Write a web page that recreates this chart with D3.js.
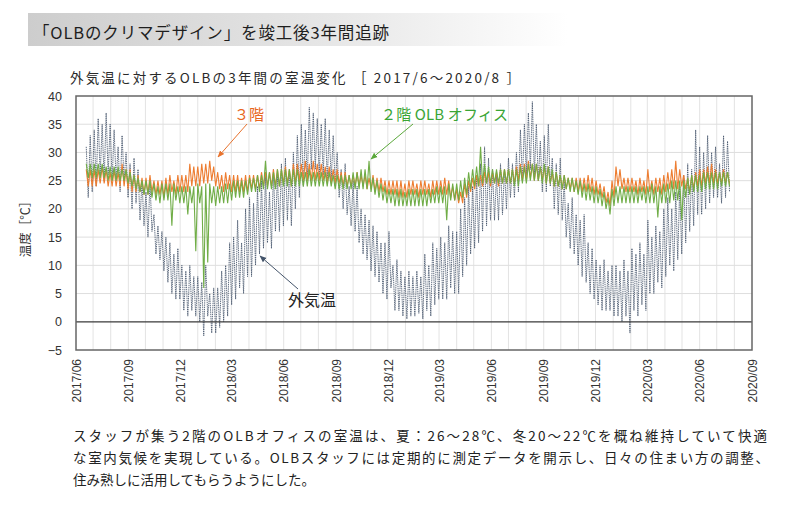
<!DOCTYPE html>
<html><head><meta charset="utf-8">
<script src="https://cdn.jsdelivr.net/npm/d3@7"></script>
<style>
html,body{margin:0;padding:0;background:#fff;}
svg{display:block;}
</style></head>
<body>
<svg id="chart" width="800" height="507"></svg>
<script>
// ---- data (weekly samples starting 2017-06-19; hi / lo of each week) ----
const seriesStart = "2017-06-19";
const weekCount = 162;

const outdoorHi = [
31,33,34,36,35,37,35,34,31,33,
30,28,29,27,25,23,25,19,17,16,
15,14,12,13,10,9,10,8,8,7,
10,5,6,6,9,10,14,15,18,14,
20,22,21,24,25,26,23,27,26,28,
29,27,30,33,35,34,38,37,36,35,
36,34,33,30,27,28,24,25,24,20,
19,18,17,16,14,14,16,10,11,9,
8,9,8,9,8,12,10,14,13,15,
14,17,16,16,20,22,24,24,26,28,
31,29,27,26,28,27,29,28,30,34,
35,37,39,35,32,33,35,29,28,29,
25,21,22,19,18,19,14,13,11,10,
11,9,10,10,9,11,9,13,12,14,
12,18,15,17,16,20,22,20,23,24,
26,28,27,34,31,30,33,30,31,28,
33,32];
const outdoorLo = [
22,23,24,26,25,26,25,25,23,25,
22,20,21,18,17,15,16,12,11,9,
7,5,4,4,2,1,2,1,0,-2.5,
1,-2,-2,-1,0,1,3,4,6,5,
8,8,10,12,13,14,13,16,16,17,
18,17,20,22,24,25,27,27,26,26,
25,25,24,22,20,19,17,16,14,12,
11,9,8,7,5,4,6,2,2,1,
0.5,1,1,1.5,0.5,2,1,3,4,4,
4,6,5,5,8,10,12,13,14,16,
17,18,18,18,19,20,22,22,23,25,
26,27,26,25,23,23,24,20,19,18,
15,13,12,10,8,7,5,4,3,2,
2,2,1,1,0,1,-2,2,1,3,
2,5,5,7,6,8,10,9,11,12,
14,16,17,19,19,20,21,22,22,21,
22,23];

const floor3Hi = [
27,27,27,27,27.5,27,26.5,27,26.5,28,
27,27,26,26,25.5,25.5,26,25,25,25,
25.5,26,25,26,26,26,28,27.5,27.5,28,
28,28.5,27.5,26.5,26,26.5,26,26,26,25.5,
26,26,26,26,26.5,26.5,26.5,27,27,27,
27.5,27,28,28,28,28.5,28,28.5,28,28,
27.5,27.5,27,27,26.5,26.5,26,26,26.5,26,
26,25.5,26,25.5,25.5,25,25,25,25,25,
24.5,25,25,24.5,25,25,24.5,25,25,25,
25.5,25,24,23.5,23,24.5,25,25.5,26,26,
26.5,26.5,26.5,26.5,27,27,27,27,27.5,28,
28,28.5,28,28,27.5,27.5,27.5,26.5,26.5,26,
26,25.5,25.5,25.5,25.5,25.5,26,25.5,25,24.5,
24,23,25,27.5,27,25.5,25.5,25.5,25,25.5,
25,27,25,25.5,25.5,26,26.5,27,28.5,27,
26,25.5,26,26.5,27,27,27.5,28,27,26.5,
27,26.5];
const floor3Lo = [
24,24,24,24.5,24.5,24,24,24,24,24,
23.5,23,23,23,22.5,22.5,23,22.5,22.5,22,
22.5,23,22.5,23,23,23,24,24,24,24.5,
24.5,25,24,23.5,23,23.5,23,23,23,23,
23,23.5,23.5,23.5,24,24,24,24,24,24.5,
24.5,24,24.5,25,25,25,25,25,25,25,
24.5,24.5,24.5,24.5,24,24,24,24,24,24,
23.5,23.5,23,23,23,22.5,22.5,22.5,22,22,
22,22.5,22.5,22,22.5,22.5,22,22.5,22.5,22.5,
22.5,22,21.5,21,21,22,23,23.5,24,24,
24.5,24,24.5,24,24.5,24.5,24.5,24.5,25,25,
25,25.5,25,25,25,24.5,24.5,24,24,23.5,
23.5,23.5,23,23,23,23,23,22.5,22.5,22,
21,20.5,22,24,23.5,23,23,23,22.5,23,
22.5,23,22.5,23,22.5,23,23.5,23.5,23.5,24,
23.5,23,23.5,24,24,24.5,24.5,24.5,24.5,24.5,
24.5,24.5];

const office2Hi = [
28,28,28,28,28,27.5,27.5,27.5,27.5,27,
27,26.5,26,25.5,25,25,25,24.5,24,24.5,
24.5,24.5,24.5,24,24,24,24,24,24.5,24,
24.5,24.5,24,24,24,24.5,24.5,25,25,25,
25,25.5,25.5,26,26,28.5,26.5,26.5,27,27,
27,27,27,27,26.5,26.5,27,26.5,26.5,26.5,
26.5,26.5,26,26,26,26,26,26.5,26.5,27,
27,28.5,25.5,25,24.5,24,23.5,23.5,23.5,23.5,
23,23.5,23.5,23.5,23.5,23.5,23.5,23.5,24,24,
24,24.5,24.5,24.5,25,25.5,26.5,27,27.5,31,
28,27.5,27,27,27,27,27,27,27,27.5,
27.5,28,28,28,27.5,28,27.5,27,26.5,26,
26,25.5,25.5,25,25,24.5,24.5,24,24,23.5,
23,22,23.5,24,24,24,24,24,24,24,
24,24,24.5,24,24,24.5,24.5,25,25,25,
25,25.5,26,26,26,26.5,26.5,26.5,26.5,26.5,
26.5,26.5];
const office2Lo = [
25.5,25.5,25.5,25.5,25.5,25,25,25,25,25,
24.5,24,23.5,23,22.5,22.5,22,21.5,21,21.5,
21.5,17,21.5,21,21,19,21,12.5,21,6,
10.5,21,20.5,21,21,21,21.5,22,22,22,
22.5,23,23,23,23.5,23.5,23.5,23.5,24,24,
24,24,24,24,24,24,24,24,24,24,
24,24,23.5,23.5,23.5,23.5,23.5,23.5,23.5,23.5,
23.5,23,22.5,22,21.5,21,21,20.5,20.5,20.5,
20.5,20.5,20.5,20.5,20.5,20.5,21,21,21,21,
18,21.5,21.5,21.5,22,22.5,23.5,24,24,24.5,
24.5,24.5,24.5,24.5,24.5,24.5,24.5,24,24,24.5,
24.5,25,25,25,24.5,24.5,24.5,24,24,23.5,
23.5,23,23,22.5,22,21.5,21.5,21,21,20.5,
20,19,20.5,21,21,21,21,21,21,21.5,
21,21,21,18.5,21,21,21,21.5,21.5,18,
22,22.5,23,23,23,23.5,23.5,23.5,23.5,24,
24,24];

const yTicks = [-5,0,5,10,15,20,25,30,35,40];
const xTickLabels = ["2017/06","2017/09","2017/12","2018/03","2018/06","2018/09","2018/12",
  "2019/03","2019/06","2019/09","2019/12","2020/03","2020/06","2020/09"];

const headerText = "「OLBのクリマデザイン」を竣工後3年間追跡";
const titleText = "外気温に対するOLBの3年間の室温変化 ［ 2017/6～2020/8 ］";
const yLabelText = "温度［℃］";
const label3F = "３階";
const label2F = "２階 OLB オフィス";
const labelOut = "外気温";
const captionLines = [
  "スタッフが集う2階のOLBオフィスの室温は、夏：26～28℃、冬20～22℃を概ね維持していて快適",
  "な室内気候を実現している。OLBスタッフには定期的に測定データを開示し、日々の住まい方の調整、",
  "住み熟しに活用してもらうようにした。"
];

// ---- drawing ----
const svg = d3.select("#chart");
const JP = "'Noto Sans CJK JP','Noto Sans',sans-serif";
const NUM = "'Liberation Sans',Arial,sans-serif";

const parse = d3.timeParse("%Y-%m-%d");
const parseM = d3.timeParse("%Y/%m");
const t0 = parse(seriesStart);
const weeks = d3.range(weekCount).map(i => d3.timeDay.offset(t0, 7 * i));

const x = d3.scaleTime().domain([parseM(xTickLabels[0]), parseM(xTickLabels[xTickLabels.length-1])]).range([76, 752]);
const y = d3.scaleLinear().domain([-5, 40]).range([350, 96]);

// header banner
const defs = svg.append("defs");
const g1 = defs.append("linearGradient").attr("id","hdr").attr("x1","0").attr("x2","1").attr("y1","0").attr("y2","0");
g1.append("stop").attr("offset","0").attr("stop-color","#cdcdcd");
g1.append("stop").attr("offset","0.55").attr("stop-color","#e6e6e6");
g1.append("stop").attr("offset","1").attr("stop-color","#ffffff");
svg.append("rect").attr("x",28).attr("y",13).attr("width",540).attr("height",33).attr("fill","url(#hdr)");
svg.append("text").attr("x",33).attr("y",38.5).attr("font-family",JP).attr("font-size",16.5)
  .attr("font-weight",400).attr("fill","#1e1e1e").attr("textLength",356).attr("lengthAdjust","spacing").text(headerText);

svg.append("text").attr("x",70).attr("y",83).attr("font-family",JP).attr("font-size",13.5)
  .attr("fill","#2a2a2a").attr("textLength",450).attr("lengthAdjust","spacing").text(titleText);

// arrow markers
function marker(id, color){
  defs.append("marker").attr("id",id).attr("viewBox","0 0 10 10").attr("refX",9).attr("refY",5)
    .attr("markerWidth",7).attr("markerHeight",7).attr("orient","auto-start-reverse")
    .append("path").attr("d","M0,1 L10,5 L0,9 Z").attr("fill",color);
}
marker("arO","#e8732e"); marker("arG","#5aa83a"); marker("arK","#44546a");

// grid
const months = d3.timeMonth.range(x.domain()[0], x.domain()[1]);
svg.append("g").selectAll("line").data(months.slice(1)).join("line")
  .attr("x1", d => x(d)).attr("x2", d => x(d)).attr("y1", y(40)).attr("y2", y(-5))
  .attr("stroke","#e3e3e3").attr("stroke-width",1);
svg.append("g").selectAll("line").data(yTicks.filter(v => v !== 0 && v !== 40 && v !== -5)).join("line")
  .attr("x1", x.range()[0]).attr("x2", x.range()[1]).attr("y1", d => y(d)).attr("y2", d => y(d))
  .attr("stroke","#dedede").attr("stroke-width",1);

// series as zigzag between weekly hi and lo
function zig(hi, lo){
  const pts = [];
  weeks.forEach((d, i) => {
    pts.push([d, hi[i]]);
    pts.push([d3.timeHour.offset(d, 84), lo[i]]);
  });
  return pts;
}
const line = d3.line().x(p => x(p[0])).y(p => y(p[1]));
const plot = svg.append("g");
plot.append("path").attr("d", line(zig(outdoorHi, outdoorLo))).attr("fill","none")
  .attr("stroke","#44546a").attr("stroke-width",0.85).attr("stroke-dasharray","1.4,0.8");
plot.append("path").attr("d", line(zig(floor3Hi, floor3Lo))).attr("fill","none")
  .attr("stroke","#ed7d31").attr("stroke-width",1.1);
plot.append("path").attr("d", line(zig(office2Hi, office2Lo))).attr("fill","none")
  .attr("stroke","#70ad47").attr("stroke-width",1.1);

// zero line & frame
svg.append("line").attr("x1",x.range()[0]).attr("x2",x.range()[1]).attr("y1",y(0)).attr("y2",y(0))
  .attr("stroke","#3a3a3a").attr("stroke-width",1.2);
svg.append("rect").attr("x",x.range()[0]).attr("y",y(40)).attr("width",x.range()[1]-x.range()[0])
  .attr("height",y(-5)-y(40)).attr("fill","none").attr("stroke","#666").attr("stroke-width",1.5);

// y axis
const yAxis = svg.append("g").attr("transform",`translate(${x.range()[0]},0)`)
  .call(d3.axisLeft(y).tickValues(yTicks).tickSize(0).tickPadding(14));
yAxis.select(".domain").remove();
yAxis.selectAll("text").attr("font-family",NUM).attr("font-size",12.5).attr("fill","#333");

// x axis
const xAxis = svg.append("g").attr("transform",`translate(0,${y(-5)})`)
  .call(d3.axisBottom(x).tickValues(xTickLabels.map(parseM)).tickFormat(d3.timeFormat("%Y/%m")).tickSize(0));
xAxis.select(".domain").remove();
xAxis.selectAll("text").attr("transform","rotate(-90)").attr("x",-9).attr("y",0).attr("dy","0.35em")
  .style("text-anchor","end").attr("font-family",NUM).attr("font-size",12).attr("fill","#333");

// y label
svg.append("text").attr("transform","translate(30,226) rotate(-90)").attr("text-anchor","middle")
  .attr("font-family",JP).attr("font-size",12.5).attr("fill","#333").text(yLabelText);

// annotations
svg.append("line").attr("x1",247).attr("y1",124).attr("x2",218).attr("y2",157)
  .attr("stroke","#e8732e").attr("stroke-width",1).attr("marker-end","url(#arO)");
svg.append("text").attr("x",234).attr("y",120).attr("font-family",JP).attr("font-size",15)
  .attr("fill","#e8661e").text(label3F);
svg.append("line").attr("x1",413).attr("y1",124).attr("x2",371).attr("y2",159)
  .attr("stroke","#5aa83a").attr("stroke-width",1).attr("marker-end","url(#arG)");
svg.append("text").attr("x",381).attr("y",120).attr("font-family",JP).attr("font-size",15)
  .attr("fill","#3aa535").attr("textLength",127).attr("lengthAdjust","spacing").text(label2F);
svg.append("line").attr("x1",298).attr("y1",289).attr("x2",260).attr("y2",256)
  .attr("stroke","#44546a").attr("stroke-width",1).attr("marker-end","url(#arK)");
svg.append("text").attr("x",288).attr("y",306).attr("font-family",JP).attr("font-size",16)
  .attr("fill","#222").text(labelOut);

// caption
const capY = [441, 463, 485];
const capW = [694, 696, null];
captionLines.forEach((s, i) => {
  const t = svg.append("text").attr("x",73).attr("y",capY[i]).attr("font-family",JP)
    .attr("font-size",13.5).attr("fill","#222").text(s);
  if (capW[i]) t.attr("textLength",capW[i]).attr("lengthAdjust","spacing");
});
</script>
</body></html>
